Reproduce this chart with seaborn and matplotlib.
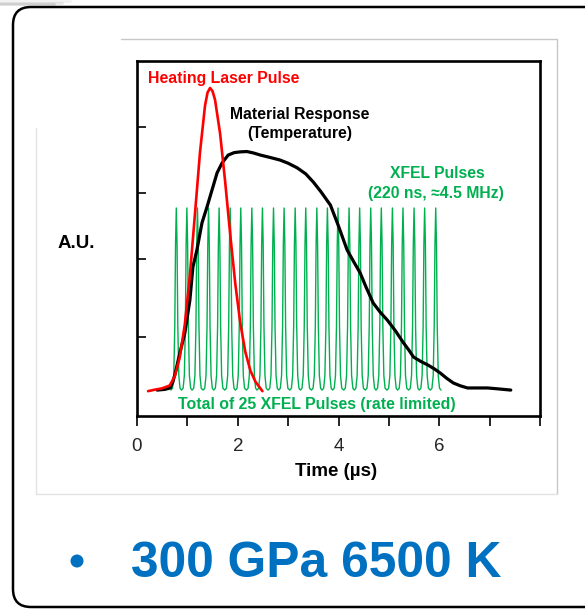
import matplotlib
matplotlib.use("Agg")
import matplotlib.pyplot as plt
import pandas as pd
import seaborn as sns
from matplotlib.patches import FancyBboxPatch, Circle
from matplotlib.lines import Line2D
from matplotlib.transforms import IdentityTransform

# ---------------- data ----------------
time_black = [0.40, 0.55, 0.66, 0.71, 0.76, 0.85, 0.95, 1.05, 1.11, 1.19, 1.29, 1.39,
              1.49, 1.59, 1.69, 1.81, 1.93, 2.05, 2.18, 2.31, 2.45, 2.65, 2.84, 3.00,
              3.18, 3.35, 3.50, 3.65, 3.84, 4.00, 4.17, 4.30, 4.43, 4.55, 4.69, 4.83,
              4.97, 5.13, 5.29, 5.40, 5.49, 5.63, 5.77, 5.90, 6.02, 6.15, 6.28, 6.42,
              6.56, 6.75, 6.96, 7.20, 7.42]
temperature = [0.073, 0.075, 0.079, 0.095, 0.121, 0.177, 0.234, 0.327, 0.420, 0.468,
               0.544, 0.589, 0.637, 0.685, 0.713, 0.735, 0.742, 0.744, 0.745, 0.741,
               0.735, 0.728, 0.721, 0.712, 0.699, 0.682, 0.659, 0.632, 0.594, 0.535,
               0.468, 0.435, 0.403, 0.362, 0.318, 0.292, 0.270, 0.240, 0.206, 0.185,
               0.166, 0.154, 0.144, 0.133, 0.121, 0.106, 0.093, 0.085, 0.079, 0.079,
               0.079, 0.076, 0.073]

time_red = [0.22, 0.35, 0.50, 0.65, 0.75, 0.85, 0.95, 1.05, 1.15, 1.25, 1.35, 1.40,
            1.45, 1.50, 1.55, 1.65, 1.75, 1.85, 1.95, 2.05, 2.15, 2.25, 2.35, 2.49]
laser = [0.070, 0.074, 0.078, 0.086, 0.112, 0.166, 0.259, 0.397, 0.568, 0.742, 0.874,
         0.911, 0.924, 0.915, 0.890, 0.795, 0.660, 0.512, 0.374, 0.262, 0.181, 0.128,
         0.097, 0.070]

pulse_times = [0.78, 0.99, 1.20, 1.42, 1.63, 1.85, 2.06, 2.28, 2.49, 2.71, 2.92, 3.14,
               3.35, 3.57, 3.78, 3.99, 4.21, 4.42, 4.64, 4.85, 5.07, 5.28, 5.50, 5.71,
               5.93]
pulse_peak = 0.586
pulse_base = 0.073
pulse_offsets = [-0.107, -0.075, -0.05, -0.03, -0.015, 0.0, 0.015, 0.03, 0.05, 0.075]
pulse_levels = [0.0, 0.01, 0.08, 0.35, 0.80, 1.0, 0.80, 0.35, 0.08, 0.01]

x_ticks = [0, 1, 2, 3, 4, 5, 6, 7, 8]
x_ticklabels = ["0", "", "2", "", "4", "", "6", "", ""]
y_ticks = [0.223, 0.442, 0.628, 0.814]

# ---------------- tables ----------------
gx, gy = [], []
for c in pulse_times:
    for o, l in zip(pulse_offsets, pulse_levels):
        gx.append(c + o)
        gy.append(pulse_base + l * (pulse_peak - pulse_base))
gx.append(pulse_times[-1] + 0.107)
gy.append(pulse_base)
df_green = pd.DataFrame({"t": gx, "v": gy})
df_black = pd.DataFrame({"t": time_black, "v": temperature})
df_red = pd.DataFrame({"t": time_red, "v": laser})

# ---------------- style ----------------
sns.set_style("white")
plt.rcParams["font.family"] = ["Liberation Sans", "DejaVu Sans"]

W, H = 585, 610
GREEN = "#00B050"
RED = "#FF0000"
BLUE = "#0070C0"

fig = plt.figure(figsize=(W / 100, H / 100), dpi=100)
fig.patch.set_facecolor("white")
ax = fig.add_axes([137 / W, 1 - 416 / H, (540 - 137) / W, (416 - 61) / H])

sns.lineplot(data=df_green, x="t", y="v", ax=ax, sort=False, estimator=None,
             color=GREEN, lw=1.0, zorder=2)
sns.lineplot(data=df_black, x="t", y="v", ax=ax, sort=False, estimator=None,
             color="black", lw=2.3, zorder=3)
sns.lineplot(data=df_red, x="t", y="v", ax=ax, sort=False, estimator=None,
             color=RED, lw=1.9, zorder=4)

ax.set_xlim(0, 8)
ax.set_ylim(0, 1)
ax.set_xlabel("")
ax.set_ylabel("")
ax.set_xticks(x_ticks)
ax.set_xticklabels(x_ticklabels, fontsize=13.5)
ax.set_yticks(y_ticks)
ax.set_yticklabels([])
ax.tick_params(axis="x", direction="out", length=7, width=1.2, pad=9, color="black",
               bottom=True)
ax.tick_params(axis="y", direction="in", length=6.5, width=1.2, color="black", left=True)
for s in ax.spines.values():
    s.set_color("black")
    s.set_linewidth(1.9)
    s.set_visible(True)


def ftext(x, y, s, **kw):
    fig.text(x / W, 1 - y / H, s, ha="center", va="center", **kw)


ftext(224, 79, "Heating Laser Pulse", color=RED, fontsize=11.4, fontweight="bold")
ftext(300, 115, "Material Response", color="black", fontsize=11.3, fontweight="bold")
ftext(300, 134, "(Temperature)", color="black", fontsize=11.3, fontweight="bold")
ftext(437, 174, "XFEL Pulses", color=GREEN, fontsize=11.3, fontweight="bold")
ftext(436, 193, "(220 ns, \u22484.5 MHz)", color=GREEN, fontsize=11.3, fontweight="bold")
ftext(317, 404, "Total of 25 XFEL Pulses (rate limited)", color=GREEN, fontsize=11.4,
      fontweight="bold")
ftext(76, 244, "A.U.", color="black", fontsize=13.5, fontweight="bold")
ftext(336, 472, "Time (\u00b5s)", color="black", fontsize=13.5, fontweight="bold")

fig.text(131 / W, 1 - 577 / H, "300 GPa 6500 K", ha="left", va="baseline",
         color=BLUE, fontsize=35.8, fontweight="bold")
fig.add_artist(Circle((77, H - 561), 6.5, transform=IdentityTransform(),
                      facecolor=BLUE, edgecolor="none"))

# grey picture frame
for (x1, y1, x2, y2, col) in [(121, 39, 557, 39, "#c8c8c8"),
                              (557, 39, 557, 494, "#c8c8c8"),
                              (36, 494, 557, 494, "#e2e2e2"),
                              (36, 128, 36, 494, "#e2e2e2")]:
    fig.add_artist(Line2D([x1, x2], [H - y1, H - y2], transform=IdentityTransform(),
                          color=col, lw=1.0))

# faint shadow at the top-left of the slide frame
for i, a in enumerate([0.10, 0.18, 0.26]):
    fig.add_artist(Line2D([0, 70 - 8 * i], [H - 1 - i * 1.5, H - 1 - i * 1.5],
                          transform=IdentityTransform(), color="grey", alpha=a,
                          lw=2.0, solid_capstyle="round"))

# outer rounded frame
fig.add_artist(FancyBboxPatch((13, 3), 640, 600,
                              boxstyle="round,pad=0,rounding_size=18",
                              transform=IdentityTransform(), fill=False,
                              edgecolor="black", lw=1.8))

fig.savefig("out.png", dpi=100, facecolor="white")
